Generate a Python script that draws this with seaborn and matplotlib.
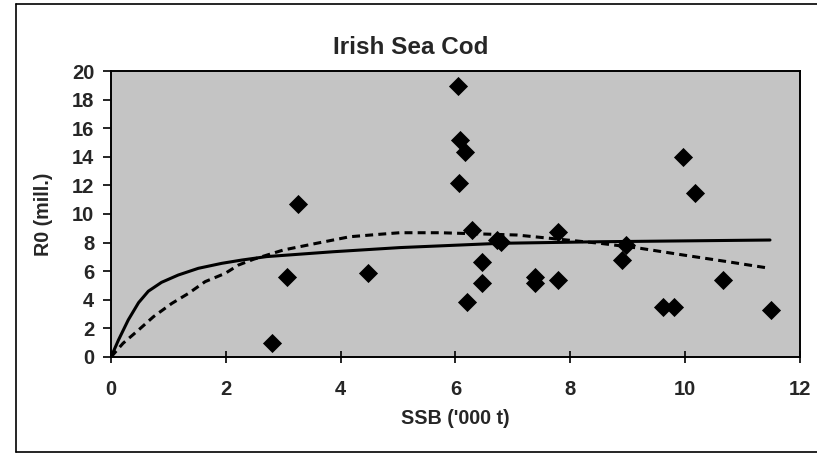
import matplotlib
matplotlib.use("Agg")
import matplotlib.pyplot as plt
import seaborn as sns
import pandas as pd
from matplotlib.lines import Line2D

# Observed stock-recruit points (SSB '000 t, R0 millions)
ssb = [2.80, 3.07, 3.26, 4.48, 6.05, 6.08, 6.17, 6.07, 6.20, 6.28, 6.47, 6.47,
       6.72, 6.80, 7.39, 7.39, 7.79, 7.79, 8.90, 8.98, 9.61, 9.80, 9.97, 10.17,
       10.67, 11.49]
r0 = [0.96, 5.57, 10.70, 5.85, 18.95, 15.17, 14.36, 12.19, 3.87, 8.88, 6.62, 5.20,
      8.15, 8.06, 5.60, 5.15, 8.72, 5.38, 6.78, 7.83, 3.52, 3.52, 14.00, 11.45,
      5.38, 3.29]

# Solid fitted curve
solid_x = [0.0, 0.13, 0.30, 0.48, 0.65, 0.88, 1.17, 1.52, 1.93, 2.28, 2.71,
           3.87, 5.03, 6.78, 8.52, 11.48]
solid_y = [0.0, 1.19, 2.59, 3.80, 4.60, 5.22, 5.73, 6.20, 6.55, 6.78, 7.02,
           7.36, 7.65, 7.95, 8.06, 8.18]

# Dashed fitted curve
dash_x = [0.0, 0.21, 0.48, 0.74, 1.06, 1.35, 1.64, 1.99, 2.22, 2.48, 3.00, 3.58,
          4.16, 4.74, 5.03, 5.73, 7.07, 7.47, 8.52, 9.22, 9.97, 10.73, 11.48]
dash_y = [0.0, 0.96, 1.89, 2.82, 3.75, 4.45, 5.27, 5.85, 6.43, 6.83, 7.48, 7.95,
          8.41, 8.60, 8.69, 8.69, 8.53, 8.37, 7.95, 7.60, 7.13, 6.67, 6.20]

x_ticks = [0, 2, 4, 6, 8, 10, 12]
y_ticks = [0, 2, 4, 6, 8, 10, 12, 14, 16, 18, 20]

sns.set_theme(style="white")
plt.rcParams['font.family'] = ['Liberation Sans', 'DejaVu Sans']

fig = plt.figure(figsize=(8.17, 4.54), dpi=100)
ax = fig.add_axes([0.1359, 0.2137, 0.979 - 0.1359, 0.8436 - 0.2137])
ax.set_facecolor('#c4c4c4')

pts = pd.DataFrame({'ssb': ssb, 'r0': r0})
sol = pd.DataFrame({'x': solid_x, 'y': solid_y})
das = pd.DataFrame({'x': dash_x, 'y': dash_y})

sns.lineplot(data=sol, x='x', y='y', ax=ax, color='black', linewidth=2.2,
             estimator=None, sort=False, zorder=2)
sns.lineplot(data=das, x='x', y='y', ax=ax, color='black', linewidth=2.2,
             estimator=None, sort=False, zorder=2)
ax.lines[-1].set_dashes([2.6, 1.7])
sns.scatterplot(data=pts, x='ssb', y='r0', ax=ax, marker='D', s=95,
                color='black', edgecolor='black', linewidth=0, zorder=3)

ax.set_xlim(0, 12)
ax.set_ylim(0, 20)
ax.set_xticks(x_ticks)
ax.set_yticks(y_ticks)
ax.set_xticklabels([str(t) for t in x_ticks], fontsize=14.5, fontweight='bold')
ax.set_yticklabels([str(t) for t in y_ticks], fontsize=14.5, fontweight='bold')
ax.tick_params(axis='x', direction='inout', length=9, width=1.2, color='black', pad=12)
ax.tick_params(axis='y', direction='out', length=6, width=1.2, color='black', pad=6)
ax.xaxis.set_ticks_position('bottom')
ax.yaxis.set_ticks_position('left')

for sp in ax.spines.values():
    sp.set_color('black')
    sp.set_linewidth(1.4)

ax.set_xlabel("SSB ('000 t)", fontsize=14.2, fontweight='bold', labelpad=7)
ax.set_ylabel("R0 (mill.)", fontsize=14.2, fontweight='bold', labelpad=14)
fig.text(0.503, 0.895, "Irish Sea Cod", fontsize=17.5, fontweight='bold',
         ha='center', va='center')

# Outer chart-area border (left, top, bottom; right edge cut off)
bl, bt, bb = 16 / 817, 1 - 4 / 454, 1 - 452 / 454
for xs, ys in [([bl, bl], [bb, bt]), ([bl, 1.0], [bt, bt]), ([bl, 1.0], [bb, bb])]:
    fig.add_artist(Line2D(xs, ys, transform=fig.transFigure, color='black', linewidth=1.2))

fig.savefig("out.png", dpi=100)
